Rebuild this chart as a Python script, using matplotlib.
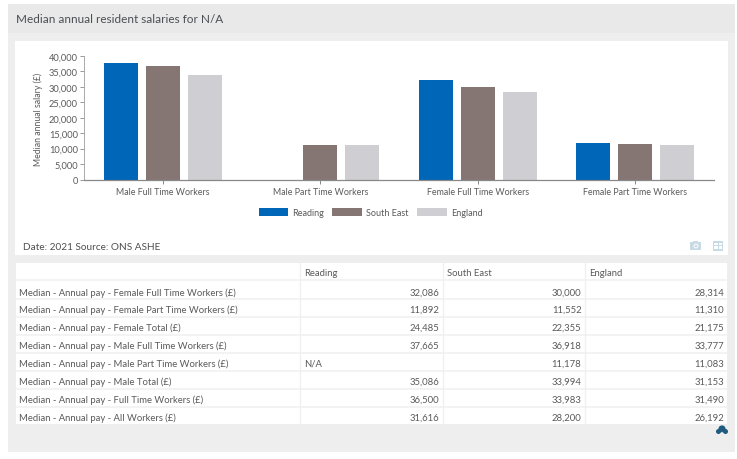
import matplotlib
matplotlib.use('agg')
import matplotlib.pyplot as plt
from matplotlib.patches import Rectangle, Circle, Polygon

plt.rcParams['font.family'] = ['Lato', 'DejaVu Sans']

categories = ['Male Full Time Workers', 'Male Part Time Workers',
              'Female Full Time Workers', 'Female Part Time Workers']
reading = [37665, None, 32086, 11892]
south_east = [36918, 11178, 30000, 11552]
england = [33777, 11083, 28314, 11310]
y_ticks = [0, 5000, 10000, 15000, 20000, 25000, 30000, 35000, 40000]

table_columns = ['Reading', 'South East', 'England']
table_rows = ['Median - Annual pay - Female Full Time Workers (£)',
              'Median - Annual pay - Female Part Time Workers (£)',
              'Median - Annual pay - Female Total (£)',
              'Median - Annual pay - Male Full Time Workers (£)',
              'Median - Annual pay - Male Part Time Workers (£)',
              'Median - Annual pay - Male Total (£)',
              'Median - Annual pay - Full Time Workers (£)',
              'Median - Annual pay - All Workers (£)']
table_reading = ['32,086', '11,892', '24,485', '37,665', 'N/A', '35,086', '36,500', '31,616']
table_south_east = ['30,000', '11,552', '22,355', '36,918', '11,178', '33,994', '33,983', '28,200']
table_england = ['28,314', '11,310', '21,175', '33,777', '11,083', '31,153', '31,490', '26,192']

BLUE = '#0066b8'
BROWN = '#857674'
LIGHT = '#cfcfd3'
TEXT = '#5a5a5a'
W, H = 737, 460

fig = plt.figure(figsize=(W / 100, H / 100), dpi=100, facecolor='white')

# page furniture, drawn in pixel coordinates
bg = fig.add_axes([0, 0, 1, 1])
bg.set_xlim(0, W)
bg.set_ylim(H, 0)
bg.axis('off')


def box(x0, y0, x1, y1, color):
    bg.add_patch(Rectangle((x0, y0), x1 - x0, y1 - y0, facecolor=color, edgecolor='none'))


box(8, 5, 735, 453, '#eeeeee')
box(8, 5, 735, 34, '#e9e9e9')
box(15, 42, 728, 256, 'white')
box(16, 264, 727, 425, 'white')

bg.text(16, 19.5, 'Median annual resident salaries for N/A', fontsize=8.45, color='#4a4f55', va='center')
bg.text(23, 247.5, 'Date: 2021 Source: ONS ASHE', fontsize=7.2, color='#4f4f4f', va='center')

# table grid
row_edges = [281, 300, 318, 336, 354, 372, 390, 408]
col_edges = [300.5, 443.5, 585.5]
for y in row_edges:
    bg.plot([16, 727], [y, y], color='#f0f0f0', lw=1.1)
for x in col_edges:
    bg.plot([x, x], [264, 425], color='#f0f0f0', lw=1.0)

row_centers = [293, 310.5, 328, 346.5, 364, 382, 400, 418]
for name, x in zip(table_columns, [304, 447, 589]):
    bg.text(x, 274, name, fontsize=6.8, color=TEXT, va='center')
for i, y in enumerate(row_centers):
    bg.text(19.5, y, table_rows[i], fontsize=6.8, color=TEXT, va='center')
    for col, x in zip([table_reading, table_south_east, table_england], [439.5, 581.5, 724]):
        if col[i] == 'N/A':
            bg.text(304, y, col[i], fontsize=6.8, color=TEXT, va='center')
        else:
            bg.text(x, y, col[i], fontsize=6.8, color=TEXT, va='center', ha='right')

# camera and table icons
icon = '#c8dae4'
box(690.5, 243, 701.5, 251, icon)
box(693.5, 241.5, 698.5, 243.5, icon)
bg.add_patch(Circle((696, 247), 2.4, facecolor='white', edgecolor='none'))
bg.add_patch(Circle((696, 247), 1.4, facecolor=icon, edgecolor='none'))
box(713, 241.5, 723.5, 251.5, icon)
box(714.2, 243.8, 717.8, 246.1, 'white')
box(718.8, 243.8, 722.3, 246.1, 'white')
box(714.2, 247.1, 717.8, 250.3, 'white')
box(718.8, 247.1, 722.3, 250.3, 'white')

# cloud icon
cloud = '#1f5b7e'
bg.add_patch(Circle((722, 430), 3.6, facecolor=cloud, edgecolor='none'))
bg.add_patch(Circle((718.5, 432.5), 2.5, facecolor=cloud, edgecolor='none'))
bg.add_patch(Circle((725.5, 432.5), 2.5, facecolor=cloud, edgecolor='none'))
bg.add_patch(Polygon([[720.3, 435.2], [723.7, 435.2], [722, 432.5]], facecolor='#eeeeee', edgecolor='none'))

# bar chart
ax = fig.add_axes([84 / W, 1 - 180.5 / H, (714 - 84) / W, (180.5 - 57) / H])
ax.patch.set_alpha(0)
step = 0.267
width = 0.216
series = [('Reading', reading, BLUE), ('South East', south_east, BROWN), ('England', england, LIGHT)]
for i, (name, values, color) in enumerate(series):
    xs = [j + (i - 1) * step for j, v in enumerate(values) if v is not None]
    ys = [v for v in values if v is not None]
    ax.bar(xs, ys, width=width, color=color, label=name)

ax.set_xlim(-0.5, 3.5)
ax.set_ylim(0, 40000)
ax.set_yticks(y_ticks)
ax.set_yticklabels([f'{v:,}' for v in y_ticks], fontsize=6.7, color=TEXT)
ax.set_xticks(range(len(categories)))
ax.set_xticklabels(categories, fontsize=6.4, color=TEXT)
ax.tick_params(axis='y', length=3.2, width=0.7, color='#999999', pad=1.2)
ax.tick_params(axis='x', length=3, width=0.7, color='#888888', pad=2.5)
for side in ['top', 'right']:
    ax.spines[side].set_visible(False)
ax.spines['left'].set_color('#aaaaaa')
ax.spines['left'].set_linewidth(0.7)
ax.spines['bottom'].set_color('#888888')
ax.spines['bottom'].set_linewidth(0.9)
bg.text(38, 119, 'Median annual salary (£)', fontsize=6.3, color=TEXT, rotation=90,
        va='center', ha='center')

ax.legend(loc='center', bbox_to_anchor=(370.5 / W, 1 - 213.5 / H), bbox_transform=fig.transFigure,
          ncol=3, frameon=False, fontsize=6.5, labelcolor=TEXT, handlelength=3.3, handleheight=0.9,
          handletextpad=0.45, columnspacing=0.9)

fig.savefig('out.png', dpi=100)
